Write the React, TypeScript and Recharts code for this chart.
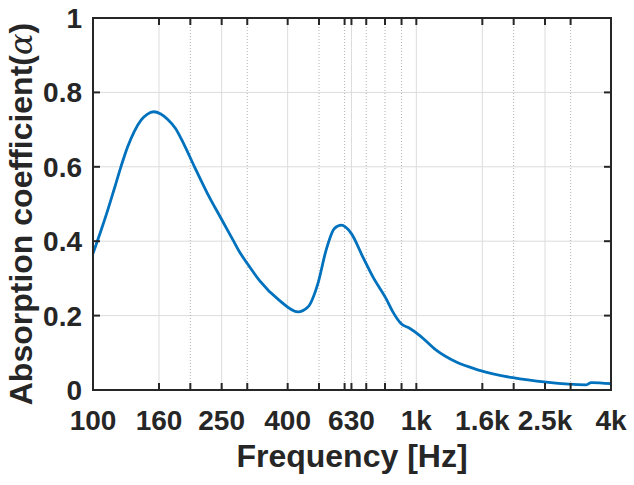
import { LineChart, Line, XAxis, YAxis, CartesianGrid, Label } from "recharts";

// absorption curve (frequency in Hz)
const freqs = [
  100, 106, 111, 116, 122, 128, 134, 141, 147, 154, 162, 170, 180, 190, 206, 226, 249, 273,
  284, 304, 327, 377, 430, 462, 496, 526, 558, 586, 629, 683, 734, 807, 846, 898, 953, 1023,
  1152, 1329, 1569, 1988, 2522, 3354, 3475, 4000,
];
const alpha = [
  0.367, 0.43, 0.483, 0.537, 0.6, 0.654, 0.694, 0.726, 0.741, 0.748, 0.742, 0.728, 0.703,
  0.665, 0.6, 0.528, 0.461, 0.398, 0.371, 0.333, 0.295, 0.241, 0.21, 0.223, 0.286, 0.376,
  0.434, 0.443, 0.421, 0.358, 0.304, 0.245, 0.21, 0.178, 0.166, 0.147, 0.107, 0.075, 0.053,
  0.033, 0.021, 0.014, 0.02, 0.017,
];

const majorTicks = [100, 160, 250, 400, 630, 1000, 1600, 2500, 4000];
const majorLabels = ["100", "160", "250", "400", "630", "1k", "1.6k", "2.5k", "4k"];
const minorTicks = [200, 300, 500, 600, 700, 800, 900, 2000, 3000];
const yTicks = [0, 0.2, 0.4, 0.6, 0.8, 1];

const data = freqs.map((f, i) => ({ f, a: alpha[i] }));
const allTicks = [...majorTicks, ...minorTicks].sort((a, b) => a - b);
const innerGrid = majorTicks.slice(1, -1);

const font = "'Liberation Sans', Arial, Helvetica, sans-serif";
const ink = "#262626";

// plot box geometry (follows from the margins and axis sizes below)
const W = 634;
const H = 485;
const M = { top: 18, right: 23, left: 0, bottom: 0 };
const Y_W = 93;
const X_H = 95;
const plotL = M.left + Y_W;
const plotR = W - M.right;
const plotT = M.top;
const plotB = H - X_H;
const TL = 7;

const fmtX = (v: number) => {
  const i = majorTicks.indexOf(v);
  return i >= 0 ? majorLabels[i] : "";
};

// matlab-style ticks: pointing inwards, on both opposite sides
const BottomTick = (p: any) => (
  <g>
    <line x1={p.x} x2={p.x} y1={plotB} y2={plotB - TL} stroke={ink} strokeWidth={2} />
    <line x1={p.x} x2={p.x} y1={plotT} y2={plotT + TL} stroke={ink} strokeWidth={2} />
    <text
      x={p.x}
      y={p.y}
      dy="0.71em"
      textAnchor="middle"
      fill={ink}
      fontSize={28}
      fontWeight="bold"
      fontFamily={font}
    >
      {fmtX(p.payload.value)}
    </text>
  </g>
);

const LeftTick = (p: any) => (
  <g>
    <line x1={plotL} x2={plotL + TL} y1={p.y} y2={p.y} stroke={ink} strokeWidth={2} />
    <line x1={plotR} x2={plotR - TL} y1={p.y} y2={p.y} stroke={ink} strokeWidth={2} />
    <text
      x={p.x}
      y={p.y}
      dy="0.36em"
      textAnchor="end"
      fill={ink}
      fontSize={28}
      fontWeight="bold"
      fontFamily={font}
    >
      {String(p.payload.value)}
    </text>
  </g>
);

const YTitle = (props: any) => {
  const vb = props.viewBox || { x: 0, y: plotT, width: Y_W, height: plotB - plotT };
  const cx = 32;
  const cy = vb.y + vb.height / 2 + 10;
  return (
    <text
      x={cx}
      y={cy}
      transform={`rotate(-90, ${cx}, ${cy})`}
      textAnchor="middle"
      fontFamily={font}
      fontWeight="bold"
      fontSize={32}
      fill={ink}
    >
      Absorption coefficient(
      <tspan fontStyle="italic" fontWeight="normal" fontFamily="'DejaVu Serif', serif">
        α
      </tspan>
      )
    </text>
  );
};

export default function App() {
  return (
    <div style={{ position: "absolute", left: 0, top: 0, width: W, height: H, background: "#fff" }}>
      <LineChart width={W} height={H} data={data} margin={M}>
        <CartesianGrid
          stroke="#dcdcdc"
          strokeWidth={1}
          verticalValues={innerGrid}
          horizontalValues={[0.2, 0.4, 0.6, 0.8]}
        />
        <CartesianGrid
          stroke="#b4b4b4"
          strokeWidth={1}
          strokeDasharray="1 2"
          horizontal={false}
          verticalValues={minorTicks}
        />
        <XAxis
          dataKey="f"
          type="number"
          scale="log"
          domain={[100, 4000]}
          allowDataOverflow
          ticks={allTicks}
          interval={0}
          height={X_H}
          tickSize={0}
          tickMargin={20}
          tickLine={false}
          axisLine={{ stroke: ink, strokeWidth: 2 }}
          tick={<BottomTick />}
        >
          <Label
            value="Frequency [Hz]"
            position="insideBottom"
            offset={18}
            fill={ink}
            fontSize={32}
            fontWeight="bold"
            fontFamily={font}
          />
        </XAxis>
        <YAxis
          type="number"
          domain={[0, 1]}
          ticks={yTicks}
          interval={0}
          width={Y_W}
          tickSize={0}
          tickMargin={11}
          tickLine={false}
          axisLine={{ stroke: ink, strokeWidth: 2 }}
          tick={<LeftTick />}
        >
          <Label content={<YTitle />} />
        </YAxis>
        <Line
          type="monotone"
          dataKey="a"
          stroke="#0072BD"
          strokeWidth={2.8}
          dot={false}
          isAnimationActive={false}
        />
      </LineChart>
      {/* box round the plot area */}
      <div
        style={{
          position: "absolute",
          left: plotL - 1,
          top: plotT - 1,
          width: plotR - plotL + 2,
          height: plotB - plotT + 2,
          border: `2px solid ${ink}`,
          boxSizing: "border-box",
          pointerEvents: "none",
        }}
      />
    </div>
  );
}
